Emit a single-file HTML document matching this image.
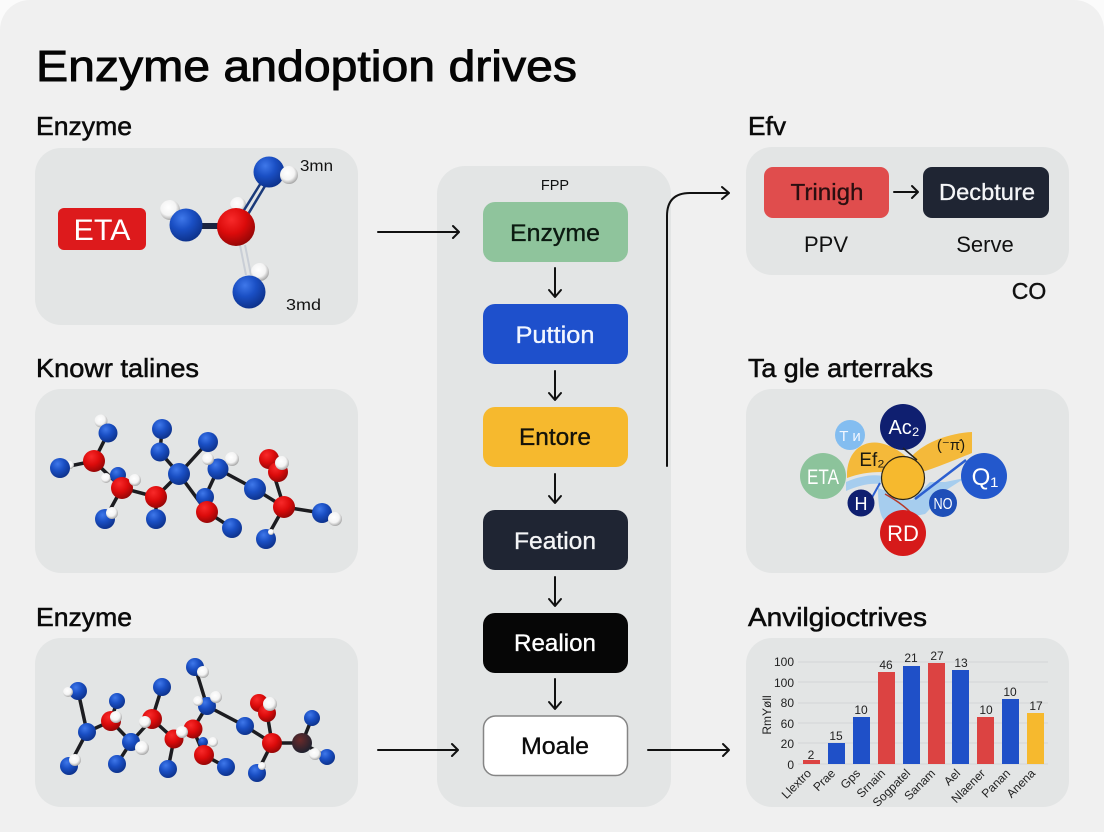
<!DOCTYPE html>
<html><head><meta charset="utf-8"><title>Enzyme andoption drives</title>
<style>
html,body{margin:0;padding:0;width:1104px;height:832px;overflow:hidden;background:#fafafa}
svg{display:block}
text{font-family:"Liberation Sans",sans-serif}
.h{font-size:26px;fill:#0b0b0b;stroke:#0b0b0b;stroke-width:.55px}
.n{font-size:24.5px;text-anchor:middle;stroke-width:.35px}
.a{fill:none;stroke:#111;stroke-width:2;stroke-linecap:round;stroke-linejoin:round}
.bd{stroke:#1c1c20;stroke-width:3.5;fill:none;stroke-linecap:round}
.y{font-size:12px;fill:#222;text-anchor:end}
.v{font-size:12px;fill:#222;text-anchor:middle}
.x{font-size:12px;fill:#222;text-anchor:end}
.c{text-anchor:middle}
</style></head><body>
<svg width="1104" height="832" viewBox="0 0 1104 832" xmlns="http://www.w3.org/2000/svg">
<defs>
<radialGradient id="b" cx=".38" cy=".3" r=".75"><stop offset="0" stop-color="#3f78ea"/><stop offset=".45" stop-color="#1a4fc4"/><stop offset="1" stop-color="#0c2f86"/></radialGradient>
<radialGradient id="r" cx=".38" cy=".3" r=".75"><stop offset="0" stop-color="#f82a2a"/><stop offset=".5" stop-color="#dc0b0b"/><stop offset="1" stop-color="#8e0606"/></radialGradient>
<radialGradient id="w" cx=".42" cy=".38" r=".7"><stop offset="0" stop-color="#fff"/><stop offset=".55" stop-color="#f4f4f4"/><stop offset="1" stop-color="#8f8f8f"/></radialGradient>
<radialGradient id="d" cx=".4" cy=".35" r=".75"><stop offset="0" stop-color="#6a2a2a"/><stop offset="1" stop-color="#14202f"/></radialGradient>
</defs>
<rect width="1104" height="832" fill="#fbfbfb"/>
<rect x="0" y="0" width="1104" height="860" rx="30" fill="#f0f0f0"/>

<text x="36" y="81" font-size="44" textLength="541" lengthAdjust="spacingAndGlyphs" fill="#050505" stroke="#050505" stroke-width=".9">Enzyme andoption drives</text>
<text x="36" y="135" class="h" textLength="96" lengthAdjust="spacingAndGlyphs">Enzyme</text>
<text x="36" y="377" class="h" textLength="163" lengthAdjust="spacingAndGlyphs">Knowr talines</text>
<text x="36" y="626" class="h" textLength="96" lengthAdjust="spacingAndGlyphs">Enzyme</text>
<text x="748" y="135" class="h" textLength="38" lengthAdjust="spacingAndGlyphs">Efv</text>
<text x="748" y="377" class="h" textLength="185" lengthAdjust="spacingAndGlyphs">Ta gle arterraks</text>
<text x="748" y="626" class="h" textLength="179" lengthAdjust="spacingAndGlyphs">Anvilgioctrives</text>

<!-- panels -->
<g fill="#e3e5e5">
<rect x="35" y="148" width="323" height="177" rx="26"/>
<rect x="35" y="389" width="323" height="184" rx="26"/>
<rect x="35" y="638" width="323" height="169" rx="26"/>
<rect x="437" y="166" width="234" height="641" rx="28"/>
<rect x="746" y="147" width="323" height="128" rx="26"/>
<rect x="746" y="389" width="323" height="184" rx="26"/>
<rect x="746" y="638" width="323" height="169" rx="26"/>
</g>

<!-- panel 1 -->
<rect x="58" y="208" width="88" height="42" rx="6" fill="#dd1a1c"/>
<text x="102" y="240" font-size="30" fill="#fff" class="c" textLength="57" lengthAdjust="spacingAndGlyphs">ETA</text>
<circle cx="238" cy="205" r="8" fill="url(#w)"/>
<path d="M186 226H236" stroke="#1b2440" stroke-width="6"/>
<path d="M236 223L264 178M241 226L268 181" stroke="#1b3a7a" stroke-width="2.5"/>
<path d="M240 245L246 275M245 245L251 275" stroke="#c9ced6" stroke-width="2"/>
<circle cx="170" cy="210" r="10" fill="url(#w)"/>
<circle cx="186" cy="225" r="16.5" fill="url(#b)"/>
<circle cx="269" cy="172" r="15.5" fill="url(#b)"/>
<circle cx="289" cy="175" r="9" fill="url(#w)"/>
<circle cx="236" cy="227" r="19" fill="url(#r)"/>
<circle cx="260" cy="272" r="9" fill="url(#w)"/>
<circle cx="249" cy="292" r="16.5" fill="url(#b)"/>
<text x="300" y="171" font-size="16" fill="#111" textLength="33" lengthAdjust="spacingAndGlyphs">3mn</text>
<text x="286" y="310" font-size="16" fill="#111" textLength="35" lengthAdjust="spacingAndGlyphs">3md</text>

<!-- panel 2 -->
<path class="bd" d="M108 433L94 461L60 468M94 461L122 488L156 497L179 474L160 452L162 429M179 474L208 442M179 474L207 512L232 528M122 488L105 519M156 497L156 519M218 469L205 497M218 469L255 489L284 507L269 459M284 507L322 513M284 507L266 539"/>
<g fill="url(#w)"><circle cx="101" cy="421" r="6.5"/><circle cx="70" cy="465" r="4"/><circle cx="106" cy="478" r="5"/></g>
<g fill="url(#b)"><circle cx="108" cy="433" r="9.5"/><circle cx="60" cy="468" r="10"/><circle cx="118" cy="475" r="8"/><circle cx="105" cy="519" r="10"/><circle cx="156" cy="519" r="10"/><circle cx="160" cy="452" r="9.5"/><circle cx="162" cy="429" r="10"/><circle cx="179" cy="474" r="11"/><circle cx="208" cy="442" r="10"/><circle cx="218" cy="469" r="10.5"/><circle cx="205" cy="497" r="9"/><circle cx="232" cy="528" r="10"/><circle cx="255" cy="489" r="11"/><circle cx="322" cy="513" r="10"/><circle cx="266" cy="539" r="10"/></g>
<g fill="url(#r)"><circle cx="94" cy="461" r="11"/><circle cx="122" cy="488" r="11"/><circle cx="156" cy="497" r="11"/><circle cx="207" cy="512" r="11"/><circle cx="269" cy="459" r="10"/><circle cx="278" cy="472" r="10"/><circle cx="284" cy="507" r="11"/></g>
<g fill="url(#w)"><circle cx="135" cy="480" r="6"/><circle cx="112" cy="513" r="6"/><circle cx="208" cy="459" r="6"/><circle cx="232" cy="459" r="7"/><circle cx="282" cy="463" r="7"/><circle cx="335" cy="519" r="7"/><circle cx="271" cy="532" r="3"/></g>

<!-- panel 3 -->
<path class="bd" d="M78 691L87 732L69 766M87 732L111 721L117 701M111 721L131 742L117 764M131 742L152 719L162 687M152 719L174 739L168 769M174 739L193 729L207 706L195 667M193 729L204 755L226 767M207 706L245 726L272 743L267 713M272 743L302 743L312 718M302 743L327 757M272 743L257 773"/>
<g fill="url(#b)"><circle cx="78" cy="691" r="9"/><circle cx="87" cy="732" r="9"/><circle cx="69" cy="766" r="9"/><circle cx="117" cy="701" r="8"/><circle cx="131" cy="742" r="9"/><circle cx="117" cy="764" r="9"/><circle cx="162" cy="687" r="9"/><circle cx="168" cy="769" r="9"/><circle cx="195" cy="667" r="9"/><circle cx="207" cy="706" r="9"/><circle cx="203" cy="742" r="5"/><circle cx="226" cy="767" r="9"/><circle cx="245" cy="726" r="9"/><circle cx="312" cy="718" r="8"/><circle cx="327" cy="757" r="8"/><circle cx="257" cy="773" r="9"/></g>
<g fill="url(#r)"><circle cx="111" cy="721" r="10"/><circle cx="152" cy="719" r="10"/><circle cx="174" cy="739" r="9.5"/><circle cx="193" cy="729" r="9.5"/><circle cx="204" cy="755" r="10"/><circle cx="259" cy="703" r="9"/><circle cx="267" cy="713" r="9"/><circle cx="272" cy="743" r="10"/></g>
<circle cx="302" cy="743" r="10" fill="url(#d)"/>
<g fill="url(#w)"><circle cx="68" cy="692" r="5"/><circle cx="75" cy="760" r="6"/><circle cx="116" cy="717" r="6"/><circle cx="142" cy="748" r="7"/><circle cx="145" cy="722" r="6"/><circle cx="182" cy="732" r="6"/><circle cx="203" cy="672" r="6"/><circle cx="216" cy="697" r="6"/><circle cx="198" cy="701" r="5"/><circle cx="213" cy="742" r="5"/><circle cx="270" cy="704" r="7"/><circle cx="315" cy="754" r="6"/><circle cx="262" cy="766" r="4"/></g>

<!-- centre column -->
<text x="555" y="190" font-size="14.5" class="c" fill="#111">FPP</text>
<rect x="483" y="202" width="145" height="60" rx="12" fill="#8fc49c"/>
<rect x="483" y="304" width="145" height="60" rx="12" fill="#1e50cc"/>
<rect x="483" y="407" width="145" height="60" rx="12" fill="#f6b92e"/>
<rect x="483" y="510" width="145" height="60" rx="12" fill="#1f2533"/>
<rect x="483" y="613" width="145" height="60" rx="12" fill="#060606"/>
<rect x="483.5" y="716" width="144" height="59.500" rx="12" fill="#fff" stroke="#858585" stroke-width="1.500"/>
<text x="555" y="241" class="n" fill="#0b1a10" stroke="#0b1a10" textLength="90" lengthAdjust="spacingAndGlyphs">Enzyme</text>
<text x="555" y="343" class="n" fill="#f2f6ff" stroke="#f2f6ff" textLength="79" lengthAdjust="spacingAndGlyphs">Puttion</text>
<text x="555" y="445" class="n" fill="#14130a" stroke="#14130a" textLength="72" lengthAdjust="spacingAndGlyphs">Entore</text>
<text x="555" y="549" class="n" fill="#f4f5f7" stroke="#f4f5f7" textLength="82" lengthAdjust="spacingAndGlyphs">Feation</text>
<text x="555" y="651" class="n" fill="#fff" stroke="#fff" textLength="82" lengthAdjust="spacingAndGlyphs">Realion</text>
<text x="555" y="754" class="n" fill="#0b0b0b" stroke="#0b0b0b" textLength="68" lengthAdjust="spacingAndGlyphs">Moale</text>
<g class="a">
<path d="M555 268V296M549 290L555 297L561 290"/>
<path d="M555 371V399M549 393L555 400L561 393"/>
<path d="M555 474V502M549 496L555 503L561 496"/>
<path d="M555 577V605M549 599L555 606L561 599"/>
<path d="M555 679V708M549 702L555 709L561 702"/>
<path d="M378 232H459M453 226L459 232L453 238"/>
<path d="M378 750H458M452 744L458 750L452 756"/>
<path d="M648 750H729M723 744L729 750L723 756"/>
<path d="M667 466V216Q667 193 690 193H728M722 187L729 193L722 199"/>
<path d="M894 192H918M912 186L918 192L912 198"/>
</g>

<!-- top right -->
<rect x="764" y="167" width="125" height="51" rx="9" fill="#e04d4d"/>
<rect x="923" y="167" width="126" height="51" rx="9" fill="#1f2533"/>
<text x="827" y="200" font-size="23" class="c" fill="#2a0f10" stroke="#2a0f10" stroke-width=".3" textLength="73" lengthAdjust="spacingAndGlyphs">Trinigh</text>
<text x="987" y="200" font-size="23" class="c" fill="#f4f5f7" stroke="#f4f5f7" stroke-width=".3" textLength="96" lengthAdjust="spacingAndGlyphs">Decbture</text>
<text x="826" y="252" font-size="22" class="c" fill="#111">PPV</text>
<text x="985" y="252" font-size="22" class="c" fill="#111">Serve</text>
<text x="1029" y="299" font-size="23" class="c" fill="#111" stroke="#111" stroke-width=".4">CO</text>

<!-- bubble diagram -->
<path d="M847 478C846 452 862 440 880 443C895 446 905 456 916 464L908 482L882 472C868 472 858 474 847 478Z" fill="#f4b93a"/>
<path d="M912 456C925 442 950 433 972 432L972 453C955 460 935 468 922 472Z" fill="#f4b93a"/>
<path d="M846 482C860 476 872 474 884 476L880 484C868 483 858 486 846 491Z" fill="#a6cdee"/>
<path d="M878 488C878 505 880 518 886 522L925 514C932 508 936 498 940 494L965 478L945 482L930 482L912 500Z" fill="#a6cdee"/>
<path d="M915 499L966 460" stroke="#2b5fd0" stroke-width="2.500" fill="none"/>
<circle cx="903" cy="427" r="23" fill="#0f1f70"/>
<path d="M903 448L917 460" stroke="#222" stroke-width="1.500"/>
<circle cx="850" cy="435" r="15" fill="#83bdf0"/>
<circle cx="823" cy="476" r="23" fill="#8cc39b"/>
<circle cx="903" cy="478" r="21.500" fill="#f6b92e" stroke="#2a2415" stroke-width="1.200"/>
<path d="M885 494Q905 505 916 518" stroke="#b53a2a" stroke-width="1.500" fill="none"/>
<path d="M880 483L865 510" stroke="#2b5fd0" stroke-width="2" fill="none"/>
<circle cx="861" cy="503" r="13.500" fill="#0f1f70"/>
<circle cx="943" cy="503" r="14" fill="#1e4fb8"/>
<circle cx="903" cy="533" r="23" fill="#d61a1a"/>
<circle cx="984" cy="476" r="23" fill="#2358cc"/>
<g class="c" fill="#fff">
<text x="904" y="434" font-size="20">Ac₂</text>
<text x="850" y="441" font-size="15" fill="#f2f7ff">T ᴎ</text>
<text x="823" y="484" font-size="21" textLength="32" lengthAdjust="spacingAndGlyphs">ETA</text>
<text x="861" y="510" font-size="18">H</text>
<text x="943" y="509" font-size="16" textLength="19" lengthAdjust="spacingAndGlyphs">NO</text>
<text x="903" y="541" font-size="22">RD</text>
<text x="985" y="485" font-size="24">Q₁</text>
<text x="872" y="466" font-size="19" fill="#1c1a10">Ef₂</text>
<text x="951" y="450" font-size="15" fill="#1c1a10">(⁻π̇)</text>
</g>

<!-- chart -->
<g stroke="#d3d5d6" stroke-width="1"><path d="M798 662H1048M798 682H1048M798 703H1048M798 723H1048M798 743H1048M798 764H1048"/></g>
<g class="y"><text x="794" y="666">100</text><text x="794" y="687">100</text><text x="794" y="707">80</text><text x="794" y="728">60</text><text x="794" y="748">20</text><text x="794" y="769">0</text></g>
<text transform="translate(771 715) rotate(-90)" font-size="12" class="c" fill="#222">RmYøll</text>
<rect x="803" y="760" width="17" height="4" fill="#dc4342"/>
<rect x="828" y="743" width="17" height="21" fill="#1f50c8"/>
<rect x="853" y="717" width="17" height="47" fill="#1f50c8"/>
<rect x="878" y="672" width="17" height="92" fill="#dc4342"/>
<rect x="903" y="666" width="17" height="98" fill="#1f50c8"/>
<rect x="928" y="663" width="17" height="101" fill="#dc4342"/>
<rect x="952" y="670" width="17" height="94" fill="#1f50c8"/>
<rect x="977" y="717" width="17" height="47" fill="#dc4342"/>
<rect x="1002" y="699" width="17" height="65" fill="#1f50c8"/>
<rect x="1027" y="713" width="17" height="51" fill="#f6b92e"/>
<g class="v">
<text x="811" y="759">2</text><text x="836" y="740">15</text><text x="861" y="714">10</text><text x="886" y="669">46</text><text x="911" y="662">21</text><text x="937" y="660">27</text><text x="961" y="667">13</text><text x="986" y="714">10</text><text x="1010" y="696">10</text><text x="1036" y="710">17</text>
</g>
<g class="x">
<text transform="translate(812 774) rotate(-45)">Llextro</text>
<text transform="translate(836 774) rotate(-45)">Prae</text>
<text transform="translate(861 774) rotate(-45)">Gps</text>
<text transform="translate(886 774) rotate(-45)">Srnain</text>
<text transform="translate(911 774) rotate(-45)">Sogpatel</text>
<text transform="translate(936 774) rotate(-45)">Sanam</text>
<text transform="translate(961 774) rotate(-45)">Ael</text>
<text transform="translate(986 774) rotate(-45)">Nlaener</text>
<text transform="translate(1011 774) rotate(-45)">Panan</text>
<text transform="translate(1036 774) rotate(-45)">Anena</text>
</g>
</svg>
</body></html>
